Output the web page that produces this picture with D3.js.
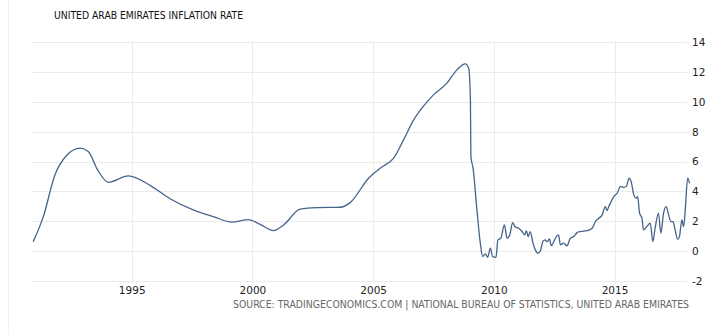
<!DOCTYPE html>
<html>
<head>
<meta charset="utf-8">
<script src="https://cdn.jsdelivr.net/npm/d3@7"></script>
<style>
  html, body { margin: 0; padding: 0; background: #ffffff; }
  svg { display: block; }
</style>
</head>
<body>
<svg id="chart" width="720" height="335"></svg>
<script>
// ---- data ----
const title = "UNITED ARAB EMIRATES INFLATION RATE";
const sourceText = "SOURCE: TRADINGECONOMICS.COM | NATIONAL BUREAU OF STATISTICS, UNITED ARAB EMIRATES";
const xTickYears = [1995, 2000, 2005, 2010, 2015];
const yTicks = [-2, 0, 2, 4, 6, 8, 10, 12, 14];
const times = [
  1990.92, 1991.34, 1991.82, 1992.3, 1992.86, 1993.2, 1993.6, 1994.03, 1994.86, 1995.76,
  1996.59, 1997.55, 1998.38, 1999.15, 1999.83, 2000.32, 2000.87, 2001.29, 2001.98, 2002.67,
  2003.64, 2004.05, 2004.81, 2005.29, 2005.85, 2006.26, 2006.68, 2007.02, 2007.5, 2008.06,
  2008.47, 2008.82, 2008.96, 2009.03, 2009.05, 2009.14, 2009.3, 2009.44, 2009.54, 2009.65,
  2009.74, 2009.86, 2009.95, 2010.09, 2010.17, 2010.29, 2010.44, 2010.55, 2010.66, 2010.78,
  2010.89, 2011.03, 2011.17, 2011.28, 2011.35, 2011.42, 2011.51, 2011.62, 2011.72, 2011.82,
  2011.93, 2012.04, 2012.13, 2012.2, 2012.31, 2012.38, 2012.48, 2012.59, 2012.68, 2012.76,
  2012.89, 2013.03, 2013.17, 2013.31, 2013.45, 2013.59, 2013.86, 2014.07, 2014.21, 2014.35,
  2014.49, 2014.62, 2014.69, 2014.76, 2014.86, 2014.97, 2015.11, 2015.24, 2015.38, 2015.49,
  2015.6, 2015.69, 2015.8, 2015.9, 2015.96, 2016.04, 2016.14, 2016.2, 2016.34, 2016.48,
  2016.59, 2016.68, 2016.82, 2016.92, 2017.03, 2017.14, 2017.24, 2017.34, 2017.42, 2017.51,
  2017.61, 2017.69, 2017.79, 2017.86, 2017.93, 2018.03, 2018.11
];
const inflation = [
  0.62, 2.3, 5.1, 6.4, 6.9, 6.67, 5.4, 4.6, 5.03, 4.4,
  3.5, 2.75, 2.3, 1.93, 2.1, 1.78, 1.36, 1.74, 2.8, 2.9,
  2.93, 3.24, 4.88, 5.55, 6.22, 7.45, 8.79, 9.58, 10.47, 11.26,
  12.15, 12.55, 12.26, 10.13, 6.33, 5.55, 2.75, 0.52, -0.38, -0.2,
  -0.43, 0.18, -0.38, -0.43, 0.74, 0.85, 1.74, 0.85, 1.07, 1.9,
  1.6, 1.52, 1.3, 1.07, 1.36, 0.95, 1.3, 0.55, 0.07, -0.15,
  0.0, 0.65, 0.74, 0.62, 0.8, 0.35, 0.6, 0.96, 1.07, 0.4,
  0.52, 0.34, 0.85, 0.96, 1.23, 1.3, 1.36, 1.52, 1.97, 2.19,
  2.42, 2.97, 2.7, 2.97, 3.3, 3.64, 3.87, 4.32, 4.27, 4.32,
  4.88, 4.65, 3.76, 3.54, 3.64, 2.53, 2.19, 1.41, 1.63, 1.86,
  0.63, 1.52, 2.53, 1.19, 2.53, 2.97, 2.42, 1.97, 1.97, 1.41,
  0.78, 0.96, 2.08, 1.63, 2.75, 4.88, 4.54
];

// ---- helpers ----
function yearToDate(y) {
  const yr = Math.floor(y);
  const start = Date.UTC(yr, 0, 1), end = Date.UTC(yr + 1, 0, 1);
  return new Date(start + (y - yr) * (end - start));
}
const data = times.map((t, i) => ({ date: yearToDate(t), value: inflation[i] }));

const svg = d3.select("#chart");
const plotLeft = 31.7, plotRight = 687, plotTop = 42.3, plotBottom = 280.7;
const labelFont = "'DejaVu Sans', Verdana, sans-serif";
const narrowFont = "'DejaVu Sans Condensed', 'Liberation Sans Narrow', 'DejaVu Sans', sans-serif";

const x = d3.scaleUtc()
  .domain([new Date(Date.UTC(1995, 0, 1)), new Date(Date.UTC(2015, 0, 1))])
  .range([131.7, 614.5]);
const y = d3.scaleLinear().domain([-2, 14]).range([plotBottom, plotTop]);

// faint container edge
svg.append("line")
  .attr("x1", 8.5).attr("x2", 8.5).attr("y1", 0).attr("y2", 335)
  .attr("stroke", "#f2f2f2").attr("stroke-width", 1);

// horizontal gridlines
svg.append("g").selectAll("line").data(yTicks).join("line")
  .attr("x1", plotLeft).attr("x2", plotRight)
  .attr("y1", d => Math.round(y(d)) + 0.5).attr("y2", d => Math.round(y(d)) + 0.5)
  .attr("stroke", "#ebebeb").attr("stroke-width", 1);

// vertical gridlines
const xTickDates = xTickYears.map(v => new Date(Date.UTC(v, 0, 1)));
svg.append("g").selectAll("line").data(xTickDates).join("line")
  .attr("x1", d => Math.round(x(d)) + 0.5).attr("x2", d => Math.round(x(d)) + 0.5)
  .attr("y1", plotTop).attr("y2", 284)
  .attr("stroke", "#ebebeb").attr("stroke-width", 1);

// x axis labels
const xAxis = d3.axisBottom(x)
  .tickValues(xTickDates)
  .tickFormat(d3.utcFormat("%Y"))
  .tickSize(0).tickPadding(0);
const gx = svg.append("g").attr("transform", "translate(0,287)").call(xAxis);
gx.select(".domain").remove();
gx.selectAll("text")
  .attr("font-family", labelFont)
  .attr("font-size", "10.5px").attr("fill", "#222").attr("dy", "0.71em");

// y axis labels (right side)
const yAxis = d3.axisRight(y).tickValues(yTicks).tickSize(0).tickPadding(0)
  .tickFormat(d => String(d));
const gy = svg.append("g").attr("transform", "translate(692,0)").call(yAxis);
gy.select(".domain").remove();
gy.selectAll("text")
  .attr("font-family", labelFont)
  .attr("font-size", "10.5px").attr("fill", "#222");

// line
const line = d3.line()
  .x(d => x(d.date)).y(d => y(d.value))
  .curve(d3.curveMonotoneX);
svg.append("path").datum(data)
  .attr("d", line)
  .attr("fill", "none")
  .attr("stroke", "#45648a")
  .attr("stroke-width", 1.3)
  .attr("stroke-linejoin", "round");

// title
svg.append("text")
  .attr("x", 54).attr("y", 19)
  .attr("font-family", narrowFont)
  .attr("font-size", "10.5px").attr("fill", "#111")
  .attr("textLength", 189).attr("lengthAdjust", "spacingAndGlyphs")
  .text(title);

// source
svg.append("text")
  .attr("x", 233).attr("y", 308)
  .attr("font-family", narrowFont)
  .attr("font-size", "10px").attr("fill", "#666")
  .attr("textLength", 456).attr("lengthAdjust", "spacingAndGlyphs")
  .text(sourceText);
</script>
</body>
</html>
